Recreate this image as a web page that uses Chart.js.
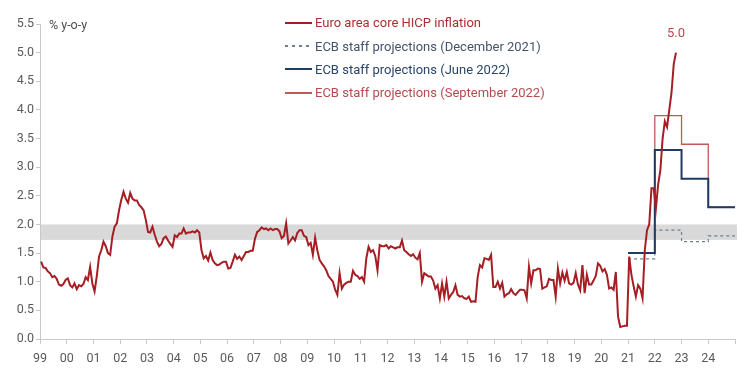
<!DOCTYPE html>
<html>
<head>
<meta charset="utf-8">
<script src="https://cdn.jsdelivr.net/npm/chart.js@4.4.1/dist/chart.umd.min.js"></script>
<style>
  html, body { margin: 0; padding: 0; background: #fff; }
  #wrap { position: relative; width: 750px; height: 379px; }
  #legend {
    position: absolute; left: 285px; top: 11px;
    font-family: Roboto, sans-serif;
    font-size: 13px;
  }
  #legend .row { height: 23.4px; display: flex; align-items: center; white-space: nowrap; }
  #legend .swatch { width: 27px; margin-right: 3px; }
</style>
</head>
<body>
<div id="wrap">
  <canvas id="chart" width="750" height="379"></canvas>
  <div id="legend"></div>
</div>
<script>
// core HICP inflation (% y-o-y), monthly from Jan 1999
const startYear = 1999;
const coreHicp = [
  1.35, 1.25, 1.24, 1.18, 1.15, 1.08, 1.10, 1.05, 0.95, 0.93, 0.96, 1.03, // 1999
  1.06, 0.94, 0.90, 0.97, 0.87, 0.94, 0.92, 0.96, 1.08, 1.03, 1.26, 0.97, // 2000
  0.83, 1.10, 1.44, 1.55, 1.70, 1.62, 1.50, 1.47, 1.79, 1.96, 2.02, 2.25, // 2001
  2.43, 2.57, 2.45, 2.38, 2.55, 2.45, 2.42, 2.42, 2.34, 2.30, 2.25, 2.08, // 2002
  1.87, 1.86, 1.96, 1.82, 1.70, 1.62, 1.66, 1.76, 1.79, 1.72, 1.66, 1.61, // 2003
  1.81, 1.78, 1.84, 1.84, 1.93, 1.84, 1.86, 1.86, 1.88, 1.86, 1.90, 1.86, // 2004
  1.55, 1.41, 1.45, 1.37, 1.51, 1.38, 1.32, 1.29, 1.30, 1.33, 1.35, 1.35, // 2005
  1.23, 1.24, 1.35, 1.47, 1.40, 1.44, 1.38, 1.45, 1.52, 1.52, 1.54, 1.54, // 2006
  1.75, 1.87, 1.90, 1.95, 1.92, 1.93, 1.90, 1.93, 1.90, 1.92, 1.92, 1.88, // 2007
  1.76, 1.80, 2.02, 1.67, 1.72, 1.78, 1.72, 1.85, 1.90, 1.90, 1.80, 1.78, // 2008
  1.64, 1.68, 1.47, 1.77, 1.55, 1.38, 1.32, 1.27, 1.20, 1.10, 1.05, 1.00, // 2009
  0.86, 0.77, 1.15, 0.88, 0.95, 0.98, 1.00, 1.00, 1.19, 1.12, 1.10, 1.05, // 2010
  1.08, 1.00, 1.41, 1.61, 1.52, 1.55, 1.45, 1.20, 1.64, 1.62, 1.62, 1.64, // 2011
  1.58, 1.62, 1.60, 1.58, 1.60, 1.60, 1.72, 1.55, 1.52, 1.48, 1.45, 1.48, // 2012
  1.42, 1.39, 1.50, 1.00, 1.15, 1.12, 1.09, 1.09, 1.02, 0.88, 0.94, 0.71, // 2013
  0.97, 0.74, 1.00, 0.71, 0.77, 0.82, 0.94, 0.77, 0.74, 0.75, 0.71, 0.70, // 2014
  0.74, 0.65, 0.66, 0.65, 1.09, 1.29, 1.25, 1.41, 1.40, 1.38, 1.47, 0.91, // 2015
  0.91, 1.00, 0.88, 0.98, 0.74, 0.78, 0.80, 0.87, 0.80, 0.77, 0.82, 0.86, // 2016
  0.86, 0.85, 0.71, 1.26, 0.97, 1.20, 1.20, 1.23, 1.22, 0.88, 0.90, 0.92, // 2017
  1.05, 1.03, 1.03, 0.74, 1.23, 0.97, 1.16, 1.02, 1.17, 0.97, 0.95, 0.98, // 2018
  1.15, 0.95, 0.85, 1.29, 0.80, 1.12, 0.95, 0.95, 1.02, 1.10, 1.32, 1.28, // 2019
  1.18, 1.22, 1.12, 0.88, 0.90, 0.86, 1.17, 0.39, 0.21, 0.22, 0.23, 0.23, // 2020
  1.44, 1.12, 0.92, 0.74, 0.94, 0.88, 0.71, 1.55, 1.90, 2.00, 2.63, 2.63, // 2021
  2.28, 2.70, 2.95, 3.50, 3.80, 3.70, 4.00, 4.30, 4.80, 5.00              // 2022
];

// ECB staff projections, annual averages
const projYears = [2021, 2022, 2023, 2024];
const projDec2021 = [1.4, 1.9, 1.7, 1.8];
const projJun2022 = [1.5, 3.3, 2.8, 2.3];
const projSep2022 = [1.5, 3.9, 3.4, 2.3];

// price stability band
const targetBand = [1.73, 2.0];

const yearLabels = ['99', '00', '01', '02', '03', '04', '05', '06', '07', '08', '09', '10', '11',
                    '12', '13', '14', '15', '16', '17', '18', '19', '20', '21', '22', '23', '24'];

const FONT = "Roboto, sans-serif";
const coreColor = '#a51e24';
const decColor = '#6d7f96';
const junColor = '#1f3a63';
const sepColor = '#bf5a5a';

const corePoints = coreHicp.map((v, i) => ({ x: startYear + (i + 0.5) / 12, y: v }));

function stepPoints(vals) {
    const pts = projYears.map((yr, i) => ({ x: yr, y: vals[i] }));
    pts.push({ x: projYears[projYears.length - 1] + 1, y: vals[vals.length - 1] });
    return pts;
}

// grey band behind the lines
const bandPlugin = {
    id: 'band',
    beforeDatasetsDraw(chart) {
        const { ctx, chartArea, scales: { y } } = chart;
        const top = y.getPixelForValue(targetBand[1]);
        const bottom = y.getPixelForValue(targetBand[0]);
        ctx.save();
        ctx.fillStyle = '#d9d9d9';
        ctx.fillRect(chartArea.left + 1, top, chartArea.right - chartArea.left + 1, bottom - top);
        ctx.restore();
    }
};

// unit label and last value label
const textPlugin = {
    id: 'texts',
    afterDatasetsDraw(chart) {
        const { ctx, chartArea, scales: { x, y } } = chart;
        ctx.save();
        ctx.font = '12.5px ' + FONT;
        ctx.fillStyle = '#505050';
        ctx.textAlign = 'left';
        ctx.textBaseline = 'middle';
        ctx.fillText('% y-o-y', chartArea.left + 9, chartArea.top + 2);

        const last = corePoints[corePoints.length - 1];
        ctx.font = '13px ' + FONT;
        ctx.fillStyle = '#b5494f';
        ctx.textAlign = 'center';
        ctx.fillText(last.y.toFixed(1), x.getPixelForValue(last.x), y.getPixelForValue(last.y) - 19);
        ctx.restore();
    }
};

Chart.defaults.font.family = FONT;
Chart.defaults.font.size = 12.5;
Chart.defaults.color = '#5a5a5a';

const ctx = document.getElementById('chart').getContext('2d');
new Chart(ctx, {
    type: 'line',
    data: {
        datasets: [
            { label: 'Euro area core HICP inflation', data: corePoints, borderColor: coreColor,
              borderWidth: 2, pointRadius: 0, tension: 0, order: 0 },
            { label: 'ECB staff projections (June 2022)', data: stepPoints(projJun2022), borderColor: junColor,
              borderWidth: 2, pointRadius: 0, stepped: true, order: 1 },
            { label: 'ECB staff projections (September 2022)', data: stepPoints(projSep2022), borderColor: sepColor,
              borderWidth: 1.3, pointRadius: 0, stepped: true, order: 2 },
            { label: 'ECB staff projections (December 2021)', data: stepPoints(projDec2021), borderColor: decColor,
              borderWidth: 1.2, borderDash: [3, 3], pointRadius: 0, stepped: true, order: 3 }
        ]
    },
    options: {
        responsive: false,
        animation: false,
        layout: { padding: { left: 0, right: 15, top: 24, bottom: 0 } },
        plugins: { legend: { display: false }, tooltip: { enabled: false } },
        scales: {
            x: {
                type: 'linear',
                min: 1999,
                max: 2025,
                afterFit: (scale) => { scale.height = 40; },
                border: { color: '#c8c8c8' },
                grid: { drawOnChartArea: false, tickLength: 5, color: '#c8c8c8' },
                ticks: {
                    stepSize: 1, autoSkip: false, maxRotation: 0, padding: 7,
                    callback: (v) => yearLabels[v - startYear] ?? ''
                }
            },
            y: {
                min: 0,
                max: 5.5,
                afterFit: (scale) => { scale.width = 40; },
                border: { color: '#c8c8c8' },
                grid: { drawOnChartArea: false, tickLength: 4, color: '#c8c8c8' },
                ticks: { stepSize: 0.5, padding: 2, callback: (v) => v.toFixed(1) }
            }
        }
    },
    plugins: [bandPlugin, textPlugin]
});

// legend
const legendItems = [
    { text: 'Euro area core HICP inflation', color: coreColor, textColor: '#a8302f', style: 'solid', width: 2 },
    { text: 'ECB staff projections (December 2021)', color: decColor, textColor: '#44546a', style: 'dash', width: 1.5 },
    { text: 'ECB staff projections (June 2022)', color: junColor, textColor: '#2a4469', style: 'solid', width: 2 },
    { text: 'ECB staff projections (September 2022)', color: sepColor, textColor: '#b34c4f', style: 'solid', width: 1.3 }
];
const legend = document.getElementById('legend');
legendItems.forEach(item => {
    const row = document.createElement('div');
    row.className = 'row';
    const sw = document.createElement('span');
    sw.className = 'swatch';
    sw.style.height = item.width + 'px';
    sw.style.background = item.style === 'dash'
        ? `repeating-linear-gradient(to right, ${item.color} 0 3px, transparent 3px 7px)`
        : item.color;
    const label = document.createElement('span');
    label.textContent = item.text;
    label.style.color = item.textColor;
    row.appendChild(sw);
    row.appendChild(label);
    legend.appendChild(row);
});
</script>
</body>
</html>
